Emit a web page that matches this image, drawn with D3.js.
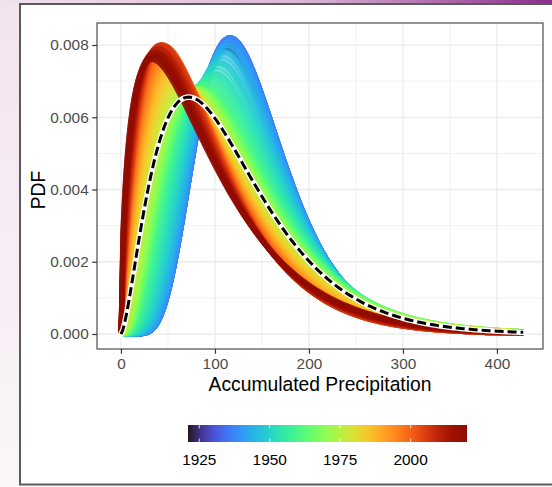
<!DOCTYPE html>
<html>
<head>
<meta charset="utf-8">
<script src="https://cdn.jsdelivr.net/npm/d3@7"></script>
<style>
  body { margin: 0; background: #f6ecf4; }
  svg text { font-family: "Liberation Sans", Arial, Helvetica, sans-serif; }
</style>
</head>
<body>
<svg width="552" height="487"></svg>
<script>
// one curve per year: where its peak sits (mode), how high it is (peak),
// and how slowly the right tail dies off (tail exponent, 1 = plain gamma)
const curveYears = d3.range(1921, 2021);
const curveMode = [
  112, 112, 113, 113, 114, 114, 115, 115, 115, 116,
  116, 116, 116, 116, 116, 116, 116, 116, 115, 115,
  114, 113, 112, 111, 110, 109, 107, 106, 104, 103,
  101, 100, 98, 96, 95, 93, 91, 90, 88, 87,
  86, 85, 84, 83, 82, 81, 80, 79, 78, 77,
  76, 75, 73, 72, 70, 69, 67, 66, 64, 63,
  62, 60, 59, 58, 57, 56, 55, 54, 53, 52,
  51, 51, 50, 49, 49, 48, 47, 47, 46, 46,
  45, 45, 44, 44, 43, 42, 42, 41, 40, 40,
  39, 38, 38, 37, 36, 36, 35, 34, 33, 33
];
const curvePeak = [
  79, 79, 80, 80, 80, 81, 81, 81, 81, 82,
  82, 82, 82, 82, 82, 82, 82, 82, 81, 81,
  80, 80, 79, 78, 78, 77, 76, 75, 75, 74,
  73, 72, 72, 71, 71, 70, 70, 69, 69, 69,
  68, 68, 68, 68, 68, 68, 68, 68, 68, 68,
  68, 68, 68, 68, 68, 69, 69, 69, 69, 70,
  70, 70, 71, 71, 72, 72, 73, 73, 74, 74,
  75, 75, 76, 76, 77, 77, 78, 78, 79, 79,
  80, 80, 80, 80, 80, 80, 80, 79, 79, 79,
  79, 78, 78, 78, 78, 77, 77, 77, 76, 76
].map(d => d * 1e-4);
const curveTail = [
  0.40, 0.40, 0.40, 0.40, 0.40, 0.40, 0.40, 0.40, 0.40, 0.40,
  0.40, 0.40, 0.40, 0.40, 0.40, 0.40, 0.40, 0.40, 0.40, 0.40,
  0.40, 0.41, 0.41, 0.42, 0.42, 0.43, 0.43, 0.44, 0.45, 0.46,
  0.47, 0.48, 0.49, 0.50, 0.51, 0.52, 0.53, 0.54, 0.55, 0.56,
  0.57, 0.58, 0.59, 0.60, 0.61, 0.62, 0.63, 0.64, 0.65, 0.66,
  0.67, 0.68, 0.70, 0.71, 0.73, 0.74, 0.76, 0.77, 0.79, 0.80,
  0.82, 0.83, 0.85, 0.86, 0.88, 0.89, 0.91, 0.92, 0.94, 0.95,
  0.96, 0.97, 0.98, 0.99, 1.00, 1.00, 1.00, 1.00, 1.00, 1.00,
  1.00, 1.00, 1.00, 1.00, 1.00, 1.00, 1.00, 1.00, 1.00, 1.00,
  1.00, 1.00, 1.00, 1.00, 1.00, 1.00, 1.00, 1.00, 1.00, 1.00
];

// the dashed reference curve
const refMode = 72;
const refPeak = 0.00656;
const refTail = 1.0;

const xMax = 428;
const xTicks = [0, 100, 200, 300, 400];
const xMinor = [50, 150, 250, 350];
const yTicks = [0, 0.002, 0.004, 0.006, 0.008];
const yMinor = [0.001, 0.003, 0.005, 0.007];
const legendTicks = [1925, 1950, 1975, 2000];

const svg = d3.select('svg');

// page background bits around the plot card
const defs = svg.append('defs');
const topGrad = defs.append('linearGradient').attr('id', 'topGrad');
topGrad.append('stop').attr('offset', '0%').attr('stop-color', '#f2e2ee');
topGrad.append('stop').attr('offset', '55%').attr('stop-color', '#dcb6d6');
topGrad.append('stop').attr('offset', '100%').attr('stop-color', '#8a2c8c');
const leftGrad = defs.append('linearGradient').attr('id', 'leftGrad')
    .attr('x1', 0).attr('y1', 0).attr('x2', 0).attr('y2', 1);
leftGrad.append('stop').attr('offset', '0%').attr('stop-color', '#f3e3ef');
leftGrad.append('stop').attr('offset', '100%').attr('stop-color', '#faf6f9');

svg.append('rect').attr('width', 552).attr('height', 487).attr('fill', 'url(#leftGrad)');
svg.append('rect').attr('width', 552).attr('height', 4).attr('fill', 'url(#topGrad)');
svg.append('rect')
    .attr('x', 20).attr('y', 4).attr('width', 540).attr('height', 480.5)
    .attr('fill', '#fff').attr('stroke', '#5a5a5a').attr('stroke-width', 2);

// panel
const panel = { left: 97, right: 543, top: 23, bottom: 349 };
const x = d3.scaleLinear().domain([-25.5, 449]).range([panel.left, panel.right]);
const y = d3.scaleLinear().domain([-0.000415, 0.00861]).range([panel.bottom, panel.top]);

const grid = svg.append('g');
grid.selectAll('.xminor').data(xMinor).join('line')
    .attr('x1', d => x(d)).attr('x2', d => x(d))
    .attr('y1', panel.top).attr('y2', panel.bottom)
    .attr('stroke', '#ebebeb').attr('stroke-width', 0.7);
grid.selectAll('.yminor').data(yMinor).join('line')
    .attr('y1', d => y(d)).attr('y2', d => y(d))
    .attr('x1', panel.left).attr('x2', panel.right)
    .attr('stroke', '#ebebeb').attr('stroke-width', 0.7);
grid.selectAll('.xmajor').data(xTicks).join('line')
    .attr('x1', d => x(d)).attr('x2', d => x(d))
    .attr('y1', panel.top).attr('y2', panel.bottom)
    .attr('stroke', '#ebebeb').attr('stroke-width', 1.3);
grid.selectAll('.ymajor').data(yTicks).join('line')
    .attr('y1', d => y(d)).attr('y2', d => y(d))
    .attr('x1', panel.left).attr('x2', panel.right)
    .attr('stroke', '#ebebeb').attr('stroke-width', 1.3);

// generalised gamma density helpers
function lgamma(z) {
    const c = [0.99999999999980993, 676.5203681218851, -1259.1392167224028,
        771.32342877765313, -176.61502916214059, 12.507343278686905,
        -0.13857109526572012, 9.9843695780195716e-6, 1.5056327351493116e-7];
    if (z < 0.5) return Math.log(Math.PI / Math.sin(Math.PI * z)) - lgamma(1 - z);
    z -= 1;
    let a = c[0];
    for (let i = 1; i < 9; i++) a += c[i] / (z + i);
    const t = z + 7.5;
    return 0.5 * Math.log(2 * Math.PI) + (z + 0.5) * Math.log(t) - t + Math.log(a);
}
// log of (peak height * mode) for shape r=(d-1)/p
function logPeakTimesMode(r, p) {
    return Math.log(p) + (r + 1 / p) * Math.log(r) - lgamma(r + 1 / p) - r;
}
// find the curve whose peak is at (m, h) for tail exponent p
function fitCurve(m, h, p) {
    const target = Math.log(h * m);
    let lo = 0.001, hi = 5000;
    for (let i = 0; i < 90; i++) {
        const mid = Math.sqrt(lo * hi);
        if (logPeakTimesMode(mid, p) < target) lo = mid; else hi = mid;
    }
    const r = Math.sqrt(lo * hi);
    const d = 1 + p * r;
    const a = m / Math.pow(r, 1 / p);
    return { p, d, a, c: Math.log(p) - d * Math.log(a) - lgamma(d / p) };
}
function density(v, q) {
    if (v <= 0) return 0;
    return Math.exp(q.c + (q.d - 1) * Math.log(v) - Math.pow(v / q.a, q.p));
}

const xs = d3.range(0, xMax + 0.001, 2);
const line = d3.line().x(d => x(d[0])).y(d => y(d[1])).curve(d3.curveLinear);
const colour = d3.scaleSequential(d3.interpolateTurbo).domain([1921, 2020]);

const curves = curveYears.map((yr, i) => {
    const q = fitCurve(curveMode[i], curvePeak[i], curveTail[i]);
    return { year: yr, pts: xs.map(v => [v, density(v, q)]) };
});

svg.append('g').selectAll('path').data(curves).join('path')
    .attr('d', d => line(d.pts))
    .attr('fill', 'none')
    .attr('stroke', d => colour(d.year))
    .attr('stroke-width', 5)
    .attr('stroke-opacity', 0.7)
    .attr('stroke-linejoin', 'round');

const refQ = fitCurve(refMode, refPeak, refTail);
const refPts = xs.map(v => [v, density(v, refQ)]);
svg.append('path').attr('d', line(refPts))
    .attr('fill', 'none').attr('stroke', '#fff').attr('stroke-width', 5.5)
    .attr('stroke-linecap', 'square');
svg.append('path').attr('d', line(refPts))
    .attr('fill', 'none').attr('stroke', '#000').attr('stroke-width', 3)
    .attr('stroke-dasharray', '9 4');

// panel border
svg.append('rect')
    .attr('x', panel.left).attr('y', panel.top)
    .attr('width', panel.right - panel.left).attr('height', panel.bottom - panel.top)
    .attr('fill', 'none').attr('stroke', '#4d4d4d').attr('stroke-width', 1.2);

// axes
const xAxis = svg.append('g').attr('transform', `translate(0,${panel.bottom})`)
    .call(d3.axisBottom(x).tickValues(xTicks).tickSize(4.8).tickPadding(4).tickFormat(d3.format('d')));
const yAxis = svg.append('g').attr('transform', `translate(${panel.left},0)`)
    .call(d3.axisLeft(y).tickValues(yTicks).tickSize(4.8).tickPadding(3.5).tickFormat(d3.format('.3f')));
[xAxis, yAxis].forEach(a => {
    a.select('.domain').remove();
    a.selectAll('.tick line').attr('stroke', '#333').attr('stroke-width', 1.2);
    a.selectAll('.tick text').attr('fill', '#4d4d4d').style('font-size', '15.4px');
});

svg.append('text')
    .attr('x', (panel.left + panel.right) / 2).attr('y', 391)
    .attr('text-anchor', 'middle').style('font-size', '19.3px').attr('fill', '#000')
    .text('Accumulated Precipitation');
svg.append('text')
    .attr('transform', `translate(45,${(panel.top + panel.bottom) / 2 + 4}) rotate(-90)`)
    .attr('text-anchor', 'middle').style('font-size', '19.3px').attr('fill', '#000')
    .text('PDF');

// colour bar legend
const lg = d3.scaleLinear().domain([1921, 2020]).range([188, 467]);
const barTop = 425, barH = 17;
const legGrad = defs.append('linearGradient').attr('id', 'legGrad');
d3.range(0, 1.0001, 0.05).forEach(t => {
    legGrad.append('stop').attr('offset', `${t * 100}%`).attr('stop-color', d3.interpolateTurbo(t));
});
svg.append('rect').attr('x', lg(1921)).attr('y', barTop)
    .attr('width', lg(2020) - lg(1921)).attr('height', barH).attr('fill', 'url(#legGrad)');
const lt = svg.append('g');
lt.selectAll('.t1').data(legendTicks).join('line')
    .attr('x1', d => lg(d)).attr('x2', d => lg(d))
    .attr('y1', barTop).attr('y2', barTop + 3.4)
    .attr('stroke', '#fff').attr('stroke-width', 0.8);
lt.selectAll('.t2').data(legendTicks).join('line')
    .attr('x1', d => lg(d)).attr('x2', d => lg(d))
    .attr('y1', barTop + barH - 3.4).attr('y2', barTop + barH)
    .attr('stroke', '#fff').attr('stroke-width', 0.8);
lt.selectAll('text').data(legendTicks).join('text')
    .attr('x', d => lg(d)).attr('y', 465)
    .attr('text-anchor', 'middle').style('font-size', '15.4px').attr('fill', '#000')
    .text(d => d);
</script>
</body>
</html>
